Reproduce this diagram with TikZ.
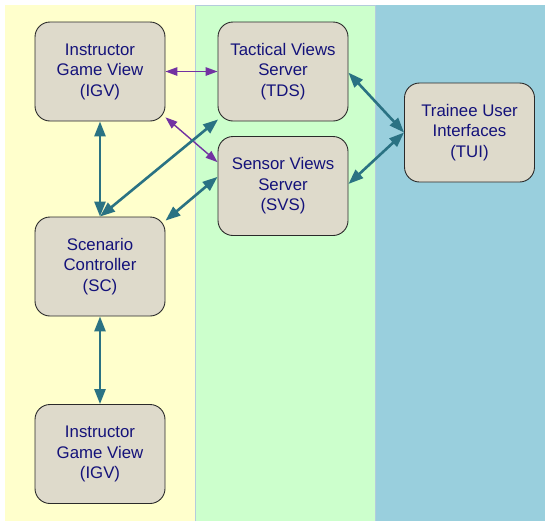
\documentclass[tikz,border=0pt]{standalone}
\usepackage{fontspec}
\setmainfont{Liberation Sans}
\usetikzlibrary{arrows.meta}
\definecolor{laneyellow}{HTML}{FFFFCC}
\definecolor{lanegreen}{HTML}{CCFFCC}
\definecolor{laneblue}{HTML}{99CFDD}
\definecolor{laneedge}{HTML}{B4CCDC}
\definecolor{boxfill}{HTML}{DEDACB}
\definecolor{boxedge}{HTML}{2A2A2A}
\definecolor{boxtext}{HTML}{14127A}
\definecolor{tealarrow}{HTML}{2A7283}
\definecolor{purplearrow}{HTML}{7232A2}
\tikzset{
  unit/.style={draw=boxedge, fill=boxfill, text=boxtext, line width=0.9pt,
    rounded corners=15pt, minimum width=130pt, minimum height=99pt,
    align=center, inner sep=0pt, font=\fontsize{16.8}{20.5}\selectfont},
  datalink/.style={tealarrow, line width=2.6pt,
    {Triangle[length=15pt,width=11pt]}-{Triangle[length=15pt,width=11pt]}},
  viewlink/.style={purplearrow, line width=1.4pt,
    {Triangle[length=12pt,width=8.5pt]}-{Triangle[length=12pt,width=8.5pt]}}
}
\begin{document}
\begin{tikzpicture}[x=1pt,y=-1pt]
\useasboundingbox[fill=white] (0,0) rectangle (548,523);
% swim lanes
\fill[laneyellow] (5,5) rectangle (195,521);
\fill[lanegreen] (195,5) rectangle (375,521);
\fill[laneblue] (375,5) rectangle (545,521);
\draw[laneedge, line width=0.8pt] (195,521) -- (195,5) -- (375,5) -- (375,521);
% components
\node[unit] (igv) at (100,71.5) {Instructor\\Game View\\(IGV)};
\node[unit] (tds) at (283,71.5) {Tactical Views\\Server\\(TDS)};
\node[unit] (svs) at (283,186) {Sensor Views\\Server\\(SVS)};
\node[unit] (tui) at (469.5,132.5) {Trainee User\\Interfaces\\(TUI)};
\node[unit] (sc) at (100,266.5) {Scenario\\Controller\\(SC)};
\node[unit] (igvb) at (100,454) {Instructor\\Game View\\(IGV)};
\coordinate (tdscorner) at ([xshift=0.5pt,yshift=2pt]tds.south west);
% view links
\draw[viewlink] (igv.east) -- (tds.west);
\draw[viewlink] (igv.-35.6) -- (svs.160);
% data links
\draw[datalink] (igv.south) -- (sc.north);
\draw[datalink] (sc.north) -- (tdscorner);
\draw[datalink] (sc.35.8) -- (svs.172);
\draw[datalink] (tds.-1.3) -- (tui.west);
\draw[datalink] ([yshift=2pt]svs.east) -- (tui.west);
\draw[datalink] (sc.south) -- (igvb.north);
\end{tikzpicture}
\end{document}
